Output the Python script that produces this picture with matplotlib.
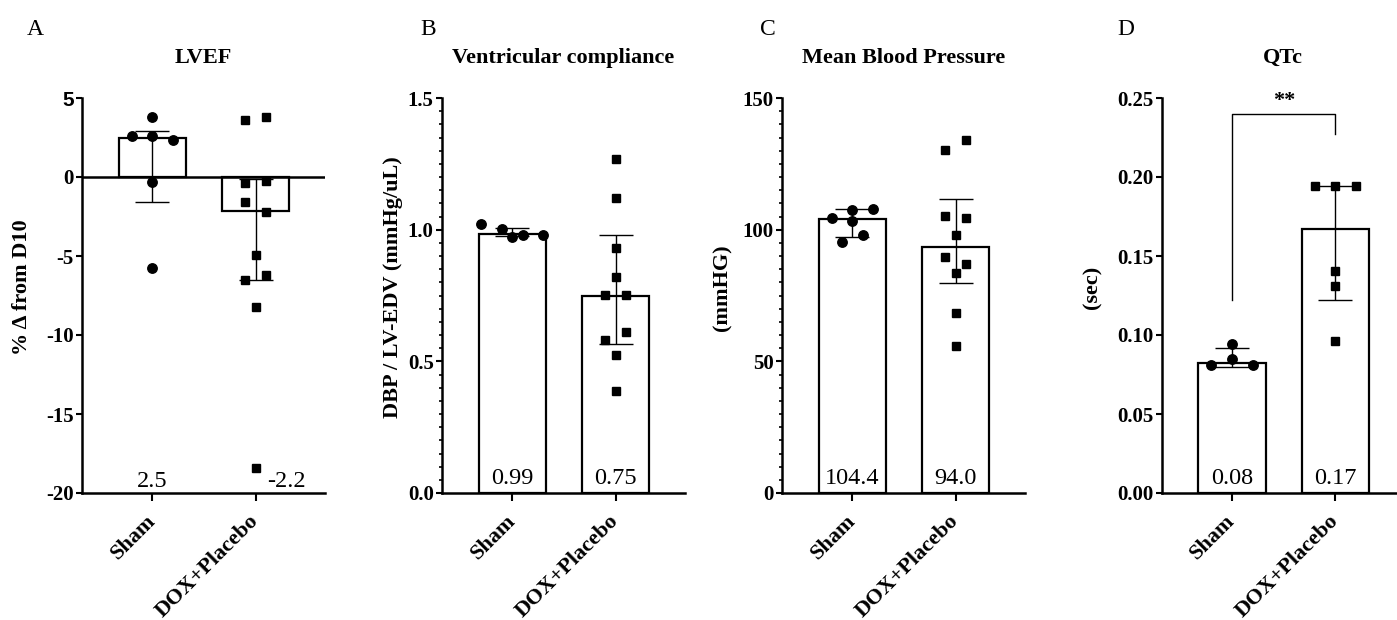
import matplotlib
matplotlib.use('Agg')
import matplotlib.pyplot as plt
import numpy as np

plt.rcParams['font.family'] = ['Liberation Serif', 'DejaVu Serif']
plt.rcParams['axes.unicode_minus'] = False

groups = ['Sham', 'DOX+Placebo']

# A - LVEF, % change from D10
lvef_sham = [3.8, 2.6, 2.6, 2.35, -0.3, -5.75]
lvef_dox = [3.63, 3.8, -0.38, -0.27, -1.6, -2.24, -4.96, -6.54, -6.18, -8.23, -18.4]
lvef_bar = [2.5, -2.15]
lvef_lo = [-1.6, -6.5]
lvef_hi = [2.9, -0.15]
lvef_txt = ['2.5', '-2.2']

# B - ventricular compliance
comp_sham = [1.02, 1.001, 0.981, 0.981, 0.973]
comp_dox = [1.268, 1.119, 0.931, 0.821, 0.751, 0.751, 0.580, 0.612, 0.525, 0.389]
comp_bar = [0.983, 0.75]
comp_lo = [0.975, 0.566]
comp_hi = [1.006, 0.978]
comp_txt = ['0.99', '0.75']

# C - mean blood pressure
mbp_sham = [104.5, 107.4, 107.9, 103.2, 95.2, 97.8]
mbp_dox = [130.2, 133.9, 105.1, 104.5, 97.8, 89.6, 87.0, 83.5, 68.2, 55.9]
mbp_bar = [104.0, 93.3]
mbp_lo = [97.3, 79.7]
mbp_hi = [107.7, 111.5]
mbp_txt = ['104.4', '94.0']

# D - QTc
qtc_sham = [0.094, 0.081, 0.085, 0.081]
qtc_dox = [0.194, 0.194, 0.194, 0.1407, 0.1308, 0.096]
qtc_bar = [0.082, 0.167]
qtc_lo = [0.080, 0.122]
qtc_hi = [0.0918, 0.194]
qtc_txt = ['0.08', '0.17']
sig_level = 0.240
sig_right_end = 0.227
sig_text = '**'


def swarm_offsets(vals, dy, dx=0.2):
    # group near-equal values in rows and centre each row (GraphPad style)
    rows = []
    for v in vals:
        if rows and max(rows[-1] + [v]) - min(rows[-1] + [v]) < dy:
            rows[-1].append(v)
        else:
            rows.append([v])
    offs = []
    for r in rows:
        n = len(r)
        offs += [(i - (n - 1) / 2) * dx for i in range(n)]
    return np.array(offs)


def panel(ax, sham, dox, bars, lo, hi, ylim, yticks, yticklabels, title, ylabel, dy,
          minor=None, lab_x=-0.2):
    x = np.arange(2)
    bars = np.array(bars)
    ax.bar(x, bars, width=0.65, color='white', edgecolor='black', linewidth=1.6, zorder=1)
    ax.errorbar(x, bars, yerr=[bars - np.array(lo), np.array(hi) - bars], fmt='none',
                ecolor='black', elinewidth=1.0, capsize=12, capthick=1.0, zorder=2)
    for j, (vals, mk, ms) in enumerate([(sham, 'o', 6.8), (dox, 's', 6.0)]):
        ax.plot(j + swarm_offsets(vals, dy), vals, marker=mk, ls='none', color='black',
                ms=ms, zorder=3, clip_on=False)
    ax.set_xlim(-0.68, 1.67)
    ax.set_ylim(*ylim)
    ax.set_yticks(yticks, yticklabels, fontsize=15, fontweight='bold')
    if minor is not None:
        ax.set_yticks(minor, minor=True)
    ax.set_xticks(x, groups, fontsize=16, fontweight='bold', rotation=45,
                  ha='right', va='center', rotation_mode='anchor')
    ax.tick_params(axis='y', which='major', length=4.5, width=1.5, pad=1.5)
    ax.tick_params(axis='y', which='minor', length=2.5, width=1.2)
    ax.tick_params(axis='x', length=6, width=1.5, pad=12)
    for s in ['top', 'right']:
        ax.spines[s].set_visible(False)
    for s in ['left', 'bottom']:
        ax.spines[s].set_linewidth(1.8)
    ax.set_title(title, fontsize=16, fontweight='bold', pad=25)
    ax.set_ylabel(ylabel, fontsize=16, fontweight='bold')
    ax.yaxis.set_label_coords(lab_x, 0.52)


def bar_text(ax, texts, y0, off=6.5, shift=(0, 0)):
    for j, t in enumerate(texts):
        ax.annotate(t, xy=(j + shift[j], y0), xytext=(0, off), textcoords='offset points',
                    ha='center', va='baseline', fontsize=17.5)


fig = plt.figure(figsize=(13.97, 6.2), dpi=100)
W, H = 1397.0, 620.0
bot = 1 - 493 / H
hgt = 395 / H
wid = 243 / W

axA = fig.add_axes([82 / W, bot, wid, hgt])
axB = fig.add_axes([442 / W, bot, wid, hgt])
axC = fig.add_axes([782 / W, bot, wid, hgt])
axD = fig.add_axes([1161.7 / W, bot, wid, hgt])

panel(axA, lvef_sham, lvef_dox, lvef_bar, lvef_lo, lvef_hi, (-20, 5),
      [5, 0, -5, -10, -15, -20], ['5', '0', '-5', '-10', '-15', '-20'],
      'LVEF', '% \u0394 from D10', 0.7, lab_x=-0.205)
axA.axhline(0, color='black', lw=1.8, zorder=1.5)
axA.get_yticklabels()[0].set_fontfamily('Liberation Sans')
bar_text(axA, lvef_txt, -20, off=4, shift=(0, 0.3))

panel(axB, comp_sham, comp_dox, comp_bar, comp_lo, comp_hi, (0, 1.5),
      [0, 0.5, 1.0, 1.5], ['0.0', '0.5', '1.0', '1.5'],
      'Ventricular compliance', 'DBP / LV-EDV (mmHg/uL)', 0.045,
      minor=np.arange(0, 1.501, 0.05), lab_x=-0.16)
bar_text(axB, comp_txt, 0)

panel(axC, mbp_sham, mbp_dox, mbp_bar, mbp_lo, mbp_hi, (0, 150),
      [0, 50, 100, 150], ['0', '50', '100', '150'],
      'Mean Blood Pressure', '(mmHG)', 4.0,
      minor=np.arange(0, 151, 5), lab_x=-0.205)
bar_text(axC, mbp_txt, 0)

panel(axD, qtc_sham, qtc_dox, qtc_bar, qtc_lo, qtc_hi, (0, 0.25),
      [0, 0.05, 0.10, 0.15, 0.20, 0.25], ['0.00', '0.05', '0.10', '0.15', '0.20', '0.25'],
      'QTc', '(sec)', 0.0063, lab_x=-0.245)
bar_text(axD, qtc_txt, 0)
# significance bracket
axD.plot([0, 0, 1, 1], [qtc_lo[1], sig_level, sig_level, sig_right_end],
         color='black', lw=1.0, clip_on=False)
axD.text(0.5, sig_level + 0.002, sig_text, ha='center', va='bottom',
         fontsize=16, fontweight='bold')

for letter, xl in zip('ABCD', [27, 420, 760, 1117]):
    fig.text(xl / W, 1 - 35 / H, letter, fontsize=17, ha='left', va='baseline')

fig.savefig('out.png', dpi=100)
